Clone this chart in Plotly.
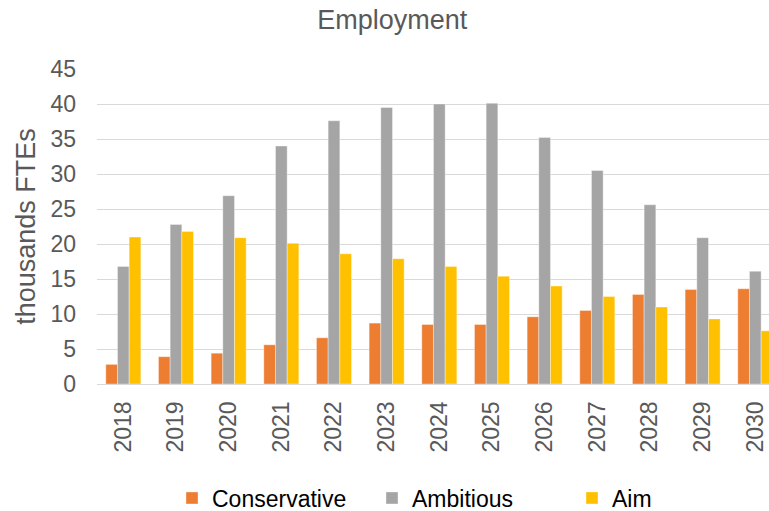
import plotly.graph_objects as go

# Employment scenarios, thousands of full-time equivalents
years = ["2018", "2019", "2020", "2021", "2022", "2023", "2024",
         "2025", "2026", "2027", "2028", "2029", "2030"]
conservative = [2.8, 3.9, 4.4, 5.6, 6.6, 8.7, 8.5, 8.5, 9.6, 10.5, 12.8, 13.5, 13.6]
ambitious = [16.8, 22.8, 26.9, 34.0, 37.6, 39.5, 40.0, 40.1, 35.2, 30.5, 25.6, 20.9, 16.1]
aim = [21.0, 21.8, 20.9, 20.1, 18.6, 17.9, 16.8, 15.4, 14.0, 12.5, 11.0, 9.3, 7.6]
y_ticks = [0, 5, 10, 15, 20, 25, 30, 35, 40, 45]

FONT = "Liberation Sans, Arial, sans-serif"
GRID = "#D9D9D9"
TEXT = "#595959"

series = [
    ("Conservative", conservative, "#ED7D31"),
    ("Ambitious", ambitious, "#A5A5A5"),
    ("Aim", aim, "#FFC000"),
]

fig = go.Figure()
for name, vals, color in series:
    fig.add_trace(go.Bar(
        x=years, y=vals, name=name,
        marker=dict(color=color, line=dict(color="rgba(255,255,255,0.6)", width=0.6)),
    ))

fig.update_layout(
    width=769, height=511,
    margin=dict(l=97, r=0, t=69, b=127),
    paper_bgcolor="white", plot_bgcolor="white",
    barmode="group", bargap=0.335, bargroupgap=0,
    font=dict(family=FONT, color=TEXT),
    title=dict(text="Employment", x=0.51, xanchor="center", y=1 - 20 / 511,
               yanchor="middle", yref="container",
               font=dict(size=27, color=TEXT, family=FONT)),
    legend=dict(orientation="h", x=172 / 769, xanchor="left", xref="container",
                y=1 - 498 / 511, yanchor="middle", yref="container",
                font=dict(size=23, color="#000000", family=FONT),
                entrywidth=155, itemwidth=30, bgcolor="rgba(0,0,0,0)"),
    showlegend=True,
)

fig.update_xaxes(
    type="category", range=[-0.5, 12.26],
    tickangle=-90, tickfont=dict(size=23, color=TEXT),
    showgrid=False, showline=True, linecolor=GRID, linewidth=1.3,
    ticks="", ticklabelstandoff=7,
)
fig.update_yaxes(
    range=[0, 45], tickvals=y_ticks,
    tickfont=dict(size=23, color=TEXT),
    showgrid=True, gridcolor=GRID, gridwidth=1.3,
    zeroline=False, showline=False, ticks="", ticklabelstandoff=20,
    title=dict(text="thousands FTEs", font=dict(size=27, color=TEXT), standoff=6),
)

fig.write_html("out.html")
